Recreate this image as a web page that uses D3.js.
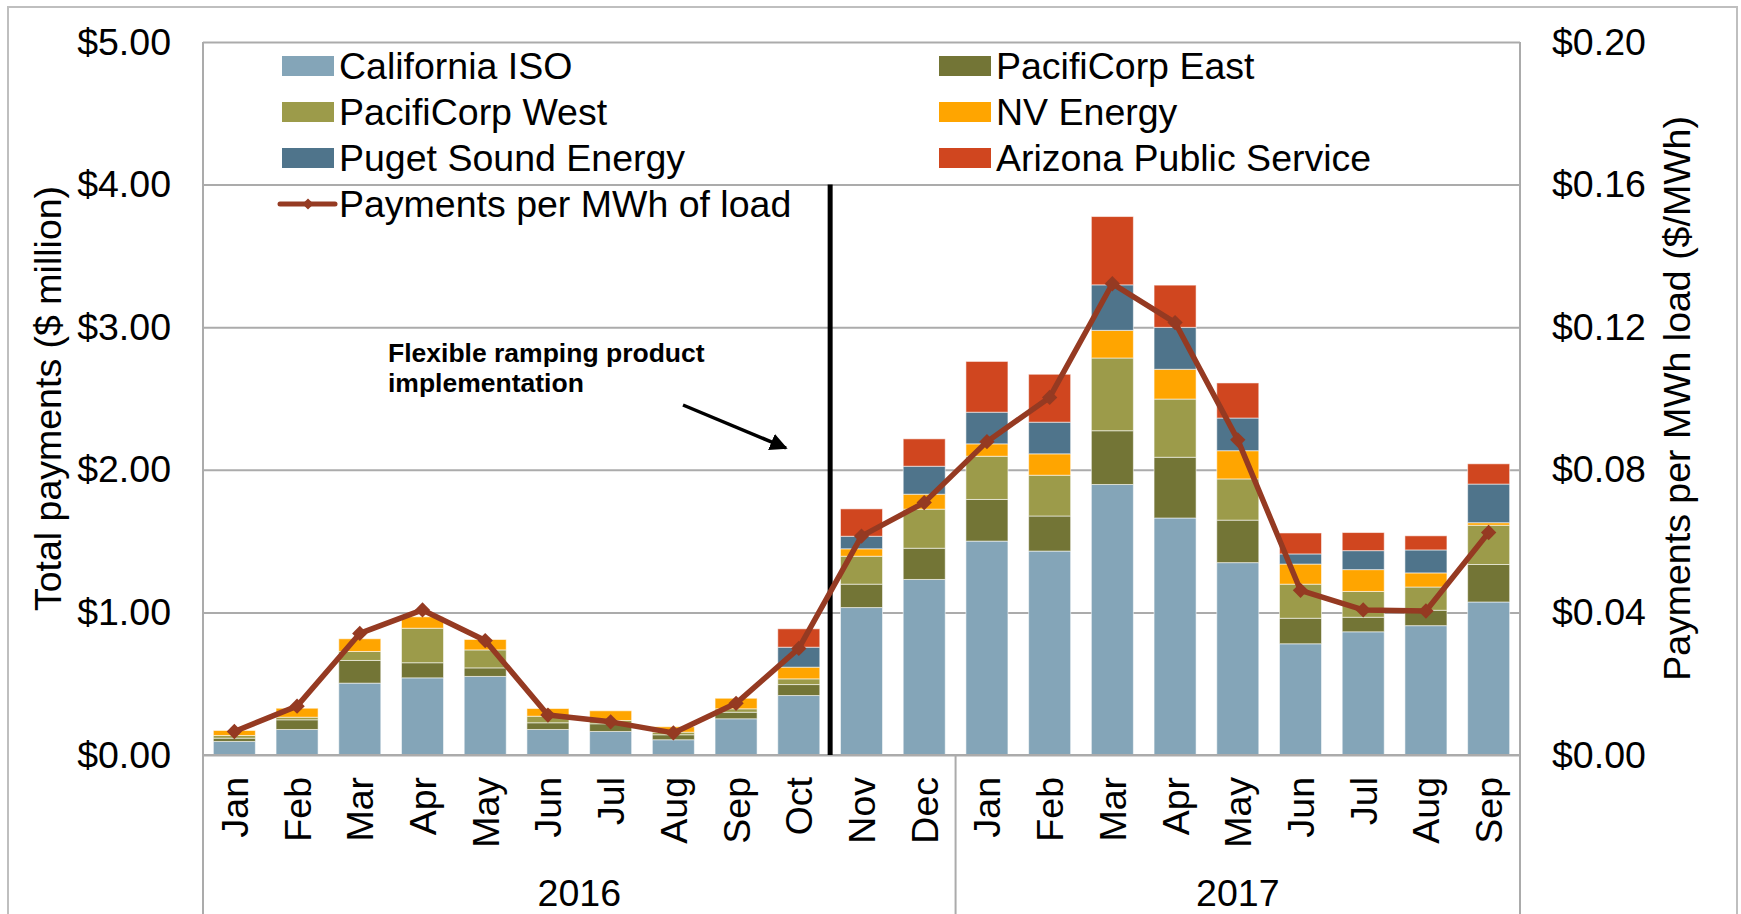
<!DOCTYPE html>
<html>
<head>
<meta charset="utf-8">
<script src="https://cdn.jsdelivr.net/npm/d3@7"></script>
<style>
  html, body { margin: 0; padding: 0; background: #fff; }
  svg { display: block; font-family: "Liberation Sans", Arial, sans-serif; }
</style>
</head>
<body>
<svg id="chart" width="1741" height="914"></svg>
<script>
// ---------- data ----------
const months = ["Jan","Feb","Mar","Apr","May","Jun","Jul","Aug","Sep","Oct","Nov","Dec",
                "Jan","Feb","Mar","Apr","May","Jun","Jul","Aug","Sep"];
const years = ["2016", "2017"];
const monthsPerYear = [12, 9];

const seriesNames = ["California ISO","PacifiCorp East","PacifiCorp West","NV Energy","Puget Sound Energy","Arizona Public Service"];
const seriesColors = ["#84A5B8","#737536","#9C9B4A","#FFA500","#4F748B","#D0461F"];

const californiaISO    = [0.095,0.179,0.504,0.541,0.551,0.179,0.165,0.107,0.254,0.417,1.034,1.231,1.500,1.430,1.897,1.662,1.349,0.780,0.864,0.907,1.073];
const pacifiCorpEast   = [0.023,0.068,0.159,0.106,0.060,0.047,0.054,0.035,0.046,0.077,0.164,0.219,0.292,0.246,0.377,0.426,0.298,0.179,0.102,0.108,0.263];
const pacifiCorpWest   = [0.019,0.018,0.063,0.242,0.126,0.046,0.023,0.018,0.024,0.040,0.196,0.274,0.303,0.286,0.510,0.408,0.289,0.239,0.181,0.163,0.275];
const nvEnergy         = [0.035,0.063,0.089,0.080,0.073,0.054,0.068,0.038,0.074,0.082,0.052,0.105,0.087,0.150,0.194,0.209,0.198,0.141,0.153,0.099,0.018];
const pugetSound       = [0,0,0,0,0,0,0,0,0,0.140,0.088,0.196,0.222,0.222,0.319,0.294,0.229,0.071,0.133,0.161,0.271];
const arizonaPublic    = [0,0,0,0,0,0,0,0,0,0.129,0.192,0.192,0.356,0.336,0.479,0.296,0.246,0.147,0.127,0.099,0.142];

const paymentsPerMWh   = [0.0066,0.0137,0.0341,0.0407,0.0321,0.0112,0.0093,0.0062,0.0145,0.0299,0.0614,0.0708,
                          0.0879,0.1003,0.1322,0.1213,0.0884,0.0462,0.0407,0.0404,0.0624];

const leftTicks  = [0,1,2,3,4,5];
const rightTicks = [0,0.04,0.08,0.12,0.16,0.20];

const lineName = "Payments per MWh of load";
const annotation = ["Flexible ramping product", "implementation"];
const implementationIndex = 10; // Nov 2016

// ---------- layout ----------
const svg = d3.select("#chart");
const L = 203, R = 1520, T = 42, B = 755;
const FONT = 37.5;
const gridColor = "#ABABAB";

const x = d3.scaleBand().domain(d3.range(months.length)).range([L, R])
  .paddingInner(0.33).paddingOuter(0.165);
const y = d3.scaleLinear().domain([0, 5]).range([B, T]);
const y2 = d3.scaleLinear().domain([0, 0.2]).range([B, T]);

// outer border
svg.append("rect").attr("x", 8).attr("y", 7).attr("width", 1729).attr("height", 930)
  .attr("fill", "none").attr("stroke", "#BFBFBF").attr("stroke-width", 2);

// gridlines
svg.append("g").attr("transform", `translate(${L},0)`)
  .call(d3.axisLeft(y).tickValues(leftTicks).tickSize(-(R - L)).tickFormat(""))
  .call(g => g.select(".domain").remove())
  .call(g => g.selectAll("line").attr("stroke", gridColor).attr("stroke-width", 2));

// plot frame (left, right, extend down through category axis)
const frame = svg.append("g").attr("stroke", gridColor).attr("stroke-width", 2);
frame.append("line").attr("x1", L).attr("x2", L).attr("y1", T).attr("y2", 914);
frame.append("line").attr("x1", R).attr("x2", R).attr("y1", T).attr("y2", 914);
// year divider(s)
let acc = 0;
const yearBounds = [];
monthsPerYear.forEach((n, i) => {
  const start = acc, end = acc + n - 1;
  yearBounds.push({label: years[i], start, end});
  acc += n;
});
const step = x.step();
const leftEdge = i => x(i) - step * x.paddingInner() / 2;
yearBounds.slice(1).forEach(b => {
  frame.append("line").attr("x1", leftEdge(b.start)).attr("x2", leftEdge(b.start))
    .attr("y1", B).attr("y2", 914);
});

// stacked bars
const seriesArrays = [californiaISO, pacifiCorpEast, pacifiCorpWest, nvEnergy, pugetSound, arizonaPublic];
const rows = months.map((m, i) => {
  const o = {i};
  seriesNames.forEach((s, k) => o[s] = seriesArrays[k][i]);
  return o;
});
const stack = d3.stack().keys(seriesNames)(rows);
svg.append("g").selectAll("g").data(stack).join("g")
  .attr("fill", (d, k) => seriesColors[k])
  .selectAll("rect").data(d => d.filter(v => v[1] - v[0] > 0)).join("rect")
  .attr("x", d => x(d.data.i))
  .attr("width", x.bandwidth())
  .attr("y", d => y(d[1]))
  .attr("height", d => y(d[0]) - y(d[1]))
  .attr("stroke", "rgba(255,255,255,0.55)")
  .attr("stroke-width", 1);

// zero axis line
svg.append("line").attr("x1", L).attr("x2", R).attr("y1", B).attr("y2", B)
  .attr("stroke", gridColor).attr("stroke-width", 2);

// implementation vertical line
svg.append("line")
  .attr("x1", leftEdge(implementationIndex)).attr("x2", leftEdge(implementationIndex))
  .attr("y1", y(4)).attr("y2", y(0))
  .attr("stroke", "#000").attr("stroke-width", 5);

// line series
const lineColor = "#953A22";
const lineGen = d3.line().x((d, i) => x(i) + x.bandwidth() / 2).y(d => y2(d));
svg.append("path").datum(paymentsPerMWh).attr("d", lineGen)
  .attr("fill", "none").attr("stroke", lineColor).attr("stroke-width", 5.5)
  .attr("stroke-linejoin", "round");
const diamond = d3.symbol().type(d3.symbolDiamond2).size(150);
svg.append("g").selectAll("path").data(paymentsPerMWh).join("path")
  .attr("transform", (d, i) => `translate(${x(i) + x.bandwidth() / 2},${y2(d)})`)
  .attr("d", diamond).attr("fill", lineColor);

// left axis labels
svg.append("g").attr("transform", `translate(${L},0)`)
  .call(d3.axisLeft(y).tickValues(leftTicks).tickSize(0).tickPadding(32).tickFormat(d3.format("$.2f")))
  .call(g => g.select(".domain").remove())
  .call(g => g.selectAll("text").attr("font-size", FONT).attr("font-family", "Liberation Sans, Arial").attr("fill", "#000"));

// right axis labels
svg.append("g").attr("transform", `translate(${R},0)`)
  .call(d3.axisRight(y2).tickValues(rightTicks).tickSize(0).tickPadding(32).tickFormat(d3.format("$.2f")))
  .call(g => g.select(".domain").remove())
  .call(g => g.selectAll("text").attr("font-size", FONT).attr("font-family", "Liberation Sans, Arial").attr("fill", "#000"));

// month labels (rotated)
svg.append("g").attr("transform", `translate(0,${B})`)
  .call(d3.axisBottom(x).tickSize(0).tickFormat(i => months[i]))
  .call(g => g.select(".domain").remove())
  .call(g => g.selectAll("text")
    .attr("font-size", FONT).attr("font-family", "Liberation Sans, Arial").attr("fill", "#000")
    .attr("text-anchor", "end")
    .attr("transform", "rotate(-90)")
    .attr("x", -22).attr("y", 0).attr("dy", "0.36em"));

// year labels
svg.append("g").selectAll("text").data(yearBounds).join("text")
  .attr("x", b => (leftEdge(b.start) + leftEdge(b.end) + step) / 2)
  .attr("y", 906)
  .attr("text-anchor", "middle")
  .attr("font-size", FONT)
  .text(b => b.label);

// axis titles
svg.append("text").attr("transform", `translate(61,${(T + B) / 2}) rotate(-90)`)
  .attr("text-anchor", "middle").attr("font-size", FONT)
  .text("Total payments ($ million)");
svg.append("text").attr("transform", `translate(1690,${(T + B) / 2}) rotate(-90)`)
  .attr("text-anchor", "middle").attr("font-size", FONT)
  .text("Payments per MWh load ($/MWh)");

// legend
const legendItems = [
  {k: 0, col: 0, row: 0}, {k: 1, col: 1, row: 0},
  {k: 2, col: 0, row: 1}, {k: 3, col: 1, row: 1},
  {k: 4, col: 0, row: 2}, {k: 5, col: 1, row: 2}
];
const colX = [282, 939], rowY = [66, 112, 158, 204];
const lg = svg.append("g");
legendItems.forEach(it => {
  lg.append("rect").attr("x", colX[it.col]).attr("y", rowY[it.row] - 10)
    .attr("width", 52).attr("height", 20).attr("fill", seriesColors[it.k]);
  lg.append("text").attr("x", colX[it.col] + 57).attr("y", rowY[it.row] + 13)
    .attr("font-size", FONT).text(seriesNames[it.k]);
});
lg.append("line").attr("x1", 280).attr("x2", 335).attr("y1", rowY[3]).attr("y2", rowY[3])
  .attr("stroke", lineColor).attr("stroke-width", 5).attr("stroke-linecap", "round");
lg.append("path").attr("transform", `translate(308,${rowY[3]})`)
  .attr("d", d3.symbol().type(d3.symbolDiamond2).size(80)).attr("fill", lineColor);
lg.append("text").attr("x", 339).attr("y", rowY[3] + 13).attr("font-size", FONT).text(lineName);

// annotation
svg.append("g").selectAll("text").data(annotation).join("text")
  .attr("x", 388).attr("y", (d, i) => 362 + i * 30)
  .attr("font-size", 26.5).attr("font-weight", "bold").text(d => d);

svg.append("defs").append("marker").attr("id", "arrow")
  .attr("viewBox", "0 0 10 10").attr("refX", 9).attr("refY", 5)
  .attr("markerWidth", 5).attr("markerHeight", 5).attr("orient", "auto")
  .attr("markerUnits", "strokeWidth")
  .append("path").attr("d", "M0,0 L10,5 L0,10 z").attr("fill", "#000");
svg.append("line").attr("x1", 683).attr("y1", 405).attr("x2", 786).attr("y2", 448)
  .attr("stroke", "#000").attr("stroke-width", 3.5).attr("marker-end", "url(#arrow)");
</script>
</body>
</html>
